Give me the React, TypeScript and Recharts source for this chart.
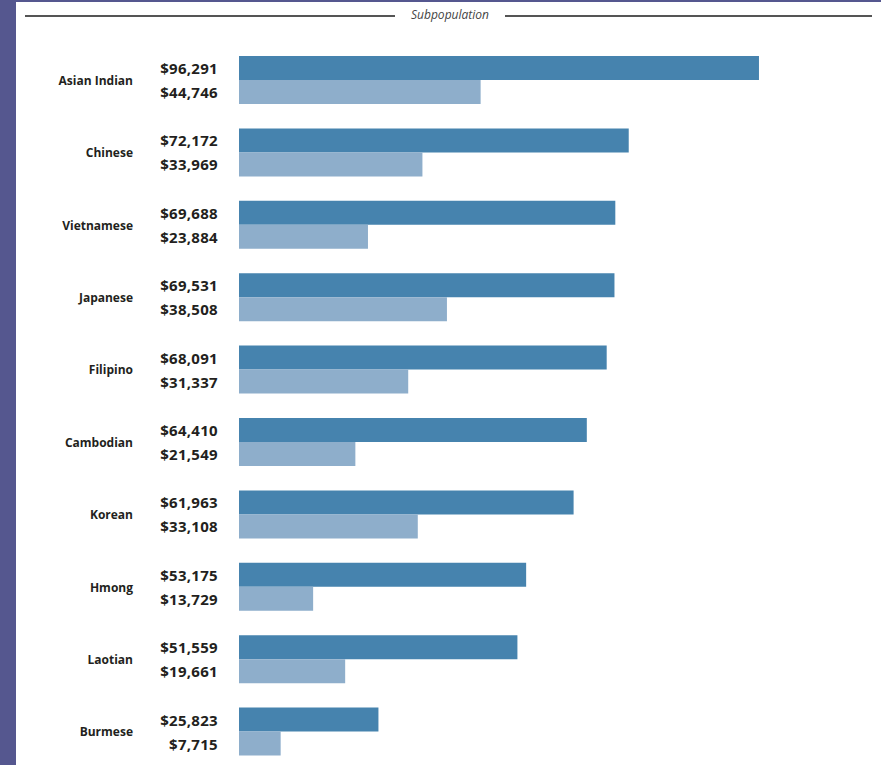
import { BarChart, Bar, XAxis, YAxis, LabelList } from 'recharts';

const groups = [
  'Asian Indian',
  'Chinese',
  'Vietnamese',
  'Japanese',
  'Filipino',
  'Cambodian',
  'Korean',
  'Hmong',
  'Laotian',
  'Burmese',
];
const upper = [96291, 72172, 69688, 69531, 68091, 64410, 61963, 53175, 51559, 25823];
const lower = [44746, 33969, 23884, 38508, 31337, 21549, 33108, 13729, 19661, 7715];

const data = groups.map((name, i) => ({ name, upper: upper[i], lower: lower[i] }));

const fmt = (v: number) => '$' + v.toLocaleString('en-US');

const ValueLabel = (props: any) => {
  const { x, y, height, value } = props;
  return (
    <text
      x={x - 21}
      y={y + height / 2}
      textAnchor="end"
      dominantBaseline="central"
      fontFamily="Open Sans"
      fontWeight={700}
      fontSize={15}
      letterSpacing={0.3}
      fill="#231f20"
    >
      {fmt(value)}
    </text>
  );
};

const CatTick = (props: any) => {
  const { x, y, payload } = props;
  return (
    <text
      x={x}
      y={y}
      textAnchor="end"
      dominantBaseline="central"
      fontFamily="Open Sans"
      fontWeight={700}
      fontSize={12}
      fill="#231f20"
    >
      {payload.value}
    </text>
  );
};

export default function App() {
  return (
    <div
      style={{
        position: 'absolute',
        left: 0,
        top: 0,
        width: 881,
        height: 765,
        overflow: 'hidden',
        background: '#55578f',
      }}
    >
      <div
        style={{
          position: 'absolute',
          left: 16,
          top: 2,
          width: 865,
          height: 763,
          background: '#fff',
          overflow: 'hidden',
        }}
      >
        {/* title rule */}
        <div style={{ position: 'absolute', left: 9, top: 13, width: 370, height: 1.5, background: '#555' }} />
        <div style={{ position: 'absolute', left: 489, top: 13, width: 367, height: 1.5, background: '#555' }} />
        <div
          style={{
            position: 'absolute',
            left: 379,
            width: 110,
            top: 4,
            textAlign: 'center',
            fontFamily: 'Open Sans',
            fontStyle: 'italic',
            fontSize: 12,
            color: '#444',
          }}
        >
          Subpopulation
        </div>

        <BarChart
          width={865}
          height={780}
          data={data}
          layout="vertical"
          margin={{ top: 42, right: 102, bottom: 14, left: 0 }}
          barCategoryGap={12}
          barGap={0}
        >
          <XAxis type="number" domain={[0, 100000]} hide />
          <YAxis
            dataKey="name"
            type="category"
            width={223}
            axisLine={false}
            tickLine={false}
            tickSize={0}
            tickMargin={106}
            tick={<CatTick />}
            interval={0}
          />
          <Bar dataKey="upper" fill="#4683ae" barSize={24} isAnimationActive={false}>
            <LabelList dataKey="upper" content={<ValueLabel />} />
          </Bar>
          <Bar dataKey="lower" fill="#8eaecb" barSize={24} isAnimationActive={false}>
            <LabelList dataKey="lower" content={<ValueLabel />} />
          </Bar>
        </BarChart>
      </div>
    </div>
  );
}
